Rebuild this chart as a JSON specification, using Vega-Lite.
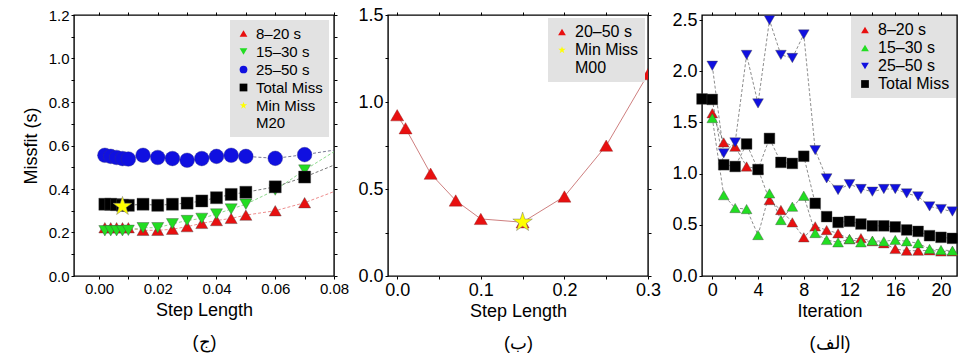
{
  "$schema": "https://vega.github.io/schema/vega-lite/v6.json",
  "padding": {"left": 21, "top": 5, "right": 0, "bottom": 0},
  "autosize": {"type": "pad"},
  "background": "white",
  "config": {
    "view": {"stroke": "black", "strokeWidth": 1.4},
    "font": "Liberation Sans",
    "axis": {
      "labelFont": "Liberation Sans", "labelFontSize": 15, "labelColor": "black",
      "titleFont": "Liberation Sans", "titleFontSize": 18, "titleFontWeight": "normal", "titleColor": "black",
      "tickColor": "black", "tickSize": 3, "tickWidth": 1, "domain": false,
      "labelPadding": 2, "grid": false, "labelFlush": false, "labelOverlap": false, "titleLineHeight": 32
    },
    "legend": {
      "labelFont": "Liberation Sans", "labelFontSize": 15, "labelColor": "black", "fillColor": "#e2e2e2",
      "padding": 6, "rowPadding": 2, "symbolSize": 60, "labelOffset": 5, "orient": "top-right",
      "symbolStrokeWidth": 0.3, "symbolStrokeColor": "#777777"
    }
  },
  "bounds": "flush",
  "spacing": 54,
  "resolve": {"scale": {"fill": "independent", "shape": "independent"}, "legend": {"fill": "independent", "shape": "independent"}},
  "hconcat": [
    {
      "width": 260, "height": 261,
      "data": {"values": [
        {"x": 0.002, "y": 0.222, "s": "8–20 s"}, {"x": 0.004, "y": 0.222, "s": "8–20 s"}, {"x": 0.006, "y": 0.222, "s": "8–20 s"}, {"x": 0.008, "y": 0.222, "s": "8–20 s"}, {"x": 0.01, "y": 0.222, "s": "8–20 s"},
        {"x": 0.015, "y": 0.21, "s": "8–20 s"}, {"x": 0.02, "y": 0.21, "s": "8–20 s"}, {"x": 0.025, "y": 0.215, "s": "8–20 s"}, {"x": 0.03, "y": 0.227, "s": "8–20 s"}, {"x": 0.035, "y": 0.242, "s": "8–20 s"},
        {"x": 0.04, "y": 0.255, "s": "8–20 s"}, {"x": 0.045, "y": 0.265, "s": "8–20 s"}, {"x": 0.05, "y": 0.28, "s": "8–20 s"}, {"x": 0.06, "y": 0.3, "s": "8–20 s"}, {"x": 0.07, "y": 0.337, "s": "8–20 s"}, {"x": 0.1, "y": 0.49, "s": "8–20 s"},
        {"x": 0.002, "y": 0.208, "s": "15–30 s"}, {"x": 0.004, "y": 0.208, "s": "15–30 s"}, {"x": 0.006, "y": 0.208, "s": "15–30 s"}, {"x": 0.008, "y": 0.208, "s": "15–30 s"}, {"x": 0.01, "y": 0.21, "s": "15–30 s"},
        {"x": 0.015, "y": 0.222, "s": "15–30 s"}, {"x": 0.02, "y": 0.222, "s": "15–30 s"}, {"x": 0.025, "y": 0.24, "s": "15–30 s"}, {"x": 0.03, "y": 0.255, "s": "15–30 s"}, {"x": 0.035, "y": 0.265, "s": "15–30 s"},
        {"x": 0.04, "y": 0.285, "s": "15–30 s"}, {"x": 0.045, "y": 0.308, "s": "15–30 s"}, {"x": 0.05, "y": 0.33, "s": "15–30 s"}, {"x": 0.06, "y": 0.395, "s": "15–30 s"}, {"x": 0.07, "y": 0.487, "s": "15–30 s"}, {"x": 0.1, "y": 0.74, "s": "15–30 s"},
        {"x": 0.002, "y": 0.555, "s": "25–50 s"}, {"x": 0.004, "y": 0.55, "s": "25–50 s"}, {"x": 0.006, "y": 0.545, "s": "25–50 s"}, {"x": 0.008, "y": 0.54, "s": "25–50 s"}, {"x": 0.01, "y": 0.538, "s": "25–50 s"},
        {"x": 0.015, "y": 0.555, "s": "25–50 s"}, {"x": 0.02, "y": 0.545, "s": "25–50 s"}, {"x": 0.025, "y": 0.54, "s": "25–50 s"}, {"x": 0.03, "y": 0.532, "s": "25–50 s"}, {"x": 0.035, "y": 0.54, "s": "25–50 s"},
        {"x": 0.04, "y": 0.55, "s": "25–50 s"}, {"x": 0.045, "y": 0.555, "s": "25–50 s"}, {"x": 0.05, "y": 0.55, "s": "25–50 s"}, {"x": 0.06, "y": 0.541, "s": "25–50 s"}, {"x": 0.07, "y": 0.558, "s": "25–50 s"}, {"x": 0.1, "y": 0.62, "s": "25–50 s"},
        {"x": 0.002, "y": 0.33, "s": "Total Miss"}, {"x": 0.004, "y": 0.33, "s": "Total Miss"}, {"x": 0.006, "y": 0.328, "s": "Total Miss"}, {"x": 0.008, "y": 0.325, "s": "Total Miss"}, {"x": 0.01, "y": 0.325, "s": "Total Miss"},
        {"x": 0.015, "y": 0.33, "s": "Total Miss"}, {"x": 0.02, "y": 0.325, "s": "Total Miss"}, {"x": 0.025, "y": 0.33, "s": "Total Miss"}, {"x": 0.03, "y": 0.335, "s": "Total Miss"}, {"x": 0.035, "y": 0.345, "s": "Total Miss"},
        {"x": 0.04, "y": 0.36, "s": "Total Miss"}, {"x": 0.045, "y": 0.375, "s": "Total Miss"}, {"x": 0.05, "y": 0.385, "s": "Total Miss"}, {"x": 0.06, "y": 0.41, "s": "Total Miss"}, {"x": 0.07, "y": 0.455, "s": "Total Miss"}, {"x": 0.1, "y": 0.62, "s": "Total Miss"},
        {"x": 0.008, "y": 0.32, "s": "Min Miss"}
      ]},
      "layer": [
        {
          "transform": [{"filter": "datum.s != 'Min Miss'"}],
          "mark": {"type": "line", "strokeWidth": 0.8, "strokeDash": [3, 2], "clip": true},
          "encoding": {
            "x": {"field": "x", "type": "quantitative", "scale": {"domain": [-0.0085, 0.08], "nice": false, "zero": false},
              "axis": {"orient": "top", "labels": false, "title": null, "values": [0, 0.01, 0.02, 0.03, 0.04, 0.05, 0.06, 0.07, 0.08]}},
            "y": {"field": "y", "type": "quantitative", "scale": {"domain": [0, 1.2], "nice": false},
              "axis": {"orient": "right", "labels": false, "title": null, "values": [0, 0.1, 0.2, 0.3, 0.4, 0.5, 0.6, 0.7, 0.8, 0.9, 1.0, 1.1, 1.2]}},
            "stroke": {"field": "s", "type": "nominal", "scale": {"domain": ["8–20 s", "15–30 s", "25–50 s", "Total Miss"], "range": ["#e87070", "#70d070", "#555577", "#555555"]}, "legend": null}
          }
        },
        {
          "transform": [{"filter": "datum.s != 'Min Miss' && datum.s != '25–50 s'"}],
          "mark": {"type": "point", "filled": true, "opacity": 1, "clip": true, "stroke": "#444444", "strokeWidth": 0.4, "size": 145},
          "encoding": {
            "x": {"field": "x", "type": "quantitative", "scale": {"domain": [-0.0085, 0.08], "nice": false, "zero": false},
              "axis": {"orient": "bottom", "title": ["Step Length", "(ج)"], "titlePadding": 5, "values": [0, 0.01, 0.02, 0.03, 0.04, 0.05, 0.06, 0.07, 0.08],
                "labelExpr": "round(datum.value*100) % 2 == 0 ? format(datum.value, '.2f') : ''"}},
            "y": {"field": "y", "type": "quantitative", "scale": {"domain": [0, 1.2], "nice": false},
              "axis": {"orient": "left", "title": "Missfit (s)", "titlePadding": 8, "values": [0, 0.1, 0.2, 0.3, 0.4, 0.5, 0.6, 0.7, 0.8, 0.9, 1.0, 1.1, 1.2],
                "labelExpr": "round(datum.value*10) % 2 == 0 ? format(datum.value, '.1f') : ''"}},
            "fill": {"field": "s", "type": "nominal", "scale": {"domain": ["8–20 s", "15–30 s", "25–50 s", "Total Miss", "Min Miss"], "range": ["#e81010", "#22dd22", "#1010e0", "#000000", "#ffff00"]},
              "legend": {"title": null, "offset": 5, "labelExpr": "datum.label == 'Min Miss' ? ['Min Miss', '\u2002M20'] : datum.label"}},
            "shape": {"field": "s", "type": "nominal", "scale": {"domain": ["8–20 s", "15–30 s", "25–50 s", "Total Miss", "Min Miss"], "range": ["triangle-up", "triangle-down", "circle", "square", "M0,-1L0.2245,-0.309L0.951,-0.309L0.363,0.118L0.588,0.809L0,0.382L-0.588,0.809L-0.363,0.118L-0.951,-0.309L-0.2245,-0.309Z"]},
              "legend": {"title": null, "offset": 5, "labelExpr": "datum.label == 'Min Miss' ? ['Min Miss', '\u2002M20'] : datum.label"}}
          }
        },
        {
          "transform": [{"filter": "datum.s == '25–50 s'"}],
          "mark": {"type": "point", "filled": true, "opacity": 1, "clip": true, "stroke": "#333388", "strokeWidth": 0.4, "size": 215},
          "encoding": {
            "x": {"field": "x", "type": "quantitative", "axis": null},
            "y": {"field": "y", "type": "quantitative", "axis": null},
            "fill": {"field": "s", "type": "nominal"},
            "shape": {"field": "s", "type": "nominal"}
          }
        },
        {
          "transform": [{"filter": "datum.s == 'Min Miss'"}],
          "mark": {"type": "point", "filled": true, "opacity": 1, "clip": true, "stroke": "#777777", "strokeWidth": 0.5, "size": 400},
          "encoding": {
            "x": {"field": "x", "type": "quantitative", "axis": null},
            "y": {"field": "y", "type": "quantitative", "axis": null},
            "fill": {"field": "s", "type": "nominal"},
            "shape": {"field": "s", "type": "nominal"}
          }
        }
      ],
      "resolve": {"axis": {"x": "independent", "y": "independent"}}
    },
    {
      "width": 260, "height": 261,
      "data": {"values": [
        {"x": 0.0, "y": 0.924, "s": "20–50 s"}, {"x": 0.01, "y": 0.849, "s": "20–50 s"}, {"x": 0.04, "y": 0.588, "s": "20–50 s"}, {"x": 0.07, "y": 0.434, "s": "20–50 s"},
        {"x": 0.1, "y": 0.328, "s": "20–50 s"}, {"x": 0.15, "y": 0.309, "s": "20–50 s"}, {"x": 0.2, "y": 0.457, "s": "20–50 s"}, {"x": 0.25, "y": 0.749, "s": "20–50 s"}, {"x": 0.3, "y": 1.16, "s": "20–50 s"},
        {"x": 0.15, "y": 0.309, "s": "Min Miss"}
      ]},
      "layer": [
        {
          "transform": [{"filter": "datum.s != 'Min Miss'"}],
          "mark": {"type": "line", "strokeWidth": 0.9, "clip": true, "color": "#c87070"},
          "encoding": {
            "x": {"field": "x", "type": "quantitative", "scale": {"domain": [-0.011, 0.3], "nice": false, "zero": false},
              "axis": {"orient": "top", "labels": false, "title": null, "values": [0, 0.05, 0.1, 0.15, 0.2, 0.25, 0.3]}},
            "y": {"field": "y", "type": "quantitative", "scale": {"domain": [0, 1.5], "nice": false},
              "axis": {"orient": "right", "labels": false, "title": null, "values": [0, 0.25, 0.5, 0.75, 1.0, 1.25, 1.5]}}
          }
        },
        {
          "transform": [{"filter": "datum.s != 'Min Miss'"}],
          "mark": {"type": "point", "filled": true, "opacity": 1, "clip": true, "stroke": "#882222", "strokeWidth": 0.4, "size": 170},
          "encoding": {
            "x": {"field": "x", "type": "quantitative", "scale": {"domain": [-0.011, 0.3], "nice": false, "zero": false},
              "axis": {"orient": "bottom", "title": ["Step Length", "(ب)"], "titlePadding": 3, "labelFontSize": 18, "values": [0, 0.05, 0.1, 0.15, 0.2, 0.25, 0.3],
                "labelExpr": "round(datum.value*100) % 10 == 0 ? format(datum.value, '.1f') : ''"}},
            "y": {"field": "y", "type": "quantitative", "scale": {"domain": [0, 1.5], "nice": false},
              "axis": {"orient": "left", "title": null, "labelFontSize": 18, "values": [0, 0.25, 0.5, 0.75, 1.0, 1.25, 1.5],
                "labelExpr": "round(datum.value*100) % 50 == 0 ? format(datum.value, '.1f') : ''"}},
            "fill": {"field": "s", "type": "nominal", "scale": {"domain": ["20–50 s", "Min Miss"], "range": ["#e81010", "#ffff00"]},
              "legend": {"title": null, "offset": 3, "labelFontSize": 16, "labelExpr": "datum.label == 'Min Miss' ? ['Min Miss', '\u2002M00'] : datum.label"}},
            "shape": {"field": "s", "type": "nominal", "scale": {"domain": ["20–50 s", "Min Miss"], "range": ["triangle-up", "M0,-1L0.2245,-0.309L0.951,-0.309L0.363,0.118L0.588,0.809L0,0.382L-0.588,0.809L-0.363,0.118L-0.951,-0.309L-0.2245,-0.309Z"]},
              "legend": {"title": null, "offset": 3, "labelFontSize": 16, "labelExpr": "datum.label == 'Min Miss' ? ['Min Miss', '\u2002M00'] : datum.label"}}
          }
        },
        {
          "transform": [{"filter": "datum.s == 'Min Miss'"}],
          "mark": {"type": "point", "filled": true, "opacity": 1, "clip": true, "stroke": "#777777", "strokeWidth": 0.5, "size": 420},
          "encoding": {
            "x": {"field": "x", "type": "quantitative", "axis": null},
            "y": {"field": "y", "type": "quantitative", "axis": null},
            "fill": {"field": "s", "type": "nominal"},
            "shape": {"field": "s", "type": "nominal"}
          }
        }
      ],
      "resolve": {"axis": {"x": "independent", "y": "independent"}}
    },
    {
      "width": 255, "height": 261,
      "data": {"values": [
        {"x": 0, "y": 1.59, "s": "8–20 s"}, {"x": 1, "y": 1.305, "s": "8–20 s"}, {"x": 2, "y": 1.263, "s": "8–20 s"}, {"x": 3, "y": 1.07, "s": "8–20 s"}, {"x": 4, "y": 1.045, "s": "8–20 s"}, {"x": 5, "y": 0.742, "s": "8–20 s"},
        {"x": 6, "y": 0.645, "s": "8–20 s"}, {"x": 7, "y": 0.524, "s": "8–20 s"}, {"x": 8, "y": 0.378, "s": "8–20 s"}, {"x": 9, "y": 0.485, "s": "8–20 s"}, {"x": 10, "y": 0.449, "s": "8–20 s"}, {"x": 11, "y": 0.417, "s": "8–20 s"},
        {"x": 12, "y": 0.36, "s": "8–20 s"}, {"x": 13, "y": 0.37, "s": "8–20 s"}, {"x": 14, "y": 0.34, "s": "8–20 s"}, {"x": 15, "y": 0.32, "s": "8–20 s"}, {"x": 16, "y": 0.264, "s": "8–20 s"}, {"x": 17, "y": 0.247, "s": "8–20 s"},
        {"x": 18, "y": 0.247, "s": "8–20 s"}, {"x": 19, "y": 0.25, "s": "8–20 s"}, {"x": 20, "y": 0.24, "s": "8–20 s"}, {"x": 21, "y": 0.24, "s": "8–20 s"},
        {"x": 0, "y": 1.543, "s": "15–30 s"}, {"x": 1, "y": 0.79, "s": "15–30 s"}, {"x": 2, "y": 0.664, "s": "15–30 s"}, {"x": 3, "y": 0.654, "s": "15–30 s"}, {"x": 4, "y": 0.4, "s": "15–30 s"}, {"x": 5, "y": 0.807, "s": "15–30 s"},
        {"x": 6, "y": 0.547, "s": "15–30 s"}, {"x": 7, "y": 0.677, "s": "15–30 s"}, {"x": 8, "y": 0.784, "s": "15–30 s"}, {"x": 9, "y": 0.42, "s": "15–30 s"}, {"x": 10, "y": 0.352, "s": "15–30 s"}, {"x": 11, "y": 0.329, "s": "15–30 s"},
        {"x": 12, "y": 0.361, "s": "15–30 s"}, {"x": 13, "y": 0.329, "s": "15–30 s"}, {"x": 14, "y": 0.345, "s": "15–30 s"}, {"x": 15, "y": 0.339, "s": "15–30 s"}, {"x": 16, "y": 0.352, "s": "15–30 s"}, {"x": 17, "y": 0.339, "s": "15–30 s"},
        {"x": 18, "y": 0.32, "s": "15–30 s"}, {"x": 19, "y": 0.264, "s": "15–30 s"}, {"x": 20, "y": 0.254, "s": "15–30 s"}, {"x": 21, "y": 0.247, "s": "15–30 s"},
        {"x": 0, "y": 2.054, "s": "25–50 s"}, {"x": 1, "y": 1.198, "s": "25–50 s"}, {"x": 2, "y": 1.305, "s": "25–50 s"}, {"x": 3, "y": 2.16, "s": "25–50 s"}, {"x": 4, "y": 1.686, "s": "25–50 s"}, {"x": 5, "y": 2.5, "s": "25–50 s"},
        {"x": 6, "y": 2.16, "s": "25–50 s"}, {"x": 7, "y": 2.13, "s": "25–50 s"}, {"x": 8, "y": 2.36, "s": "25–50 s"}, {"x": 9, "y": 1.23, "s": "25–50 s"}, {"x": 10, "y": 0.954, "s": "25–50 s"}, {"x": 11, "y": 0.84, "s": "25–50 s"},
        {"x": 12, "y": 0.898, "s": "25–50 s"}, {"x": 13, "y": 0.85, "s": "25–50 s"}, {"x": 14, "y": 0.824, "s": "25–50 s"}, {"x": 15, "y": 0.85, "s": "25–50 s"}, {"x": 16, "y": 0.85, "s": "25–50 s"}, {"x": 17, "y": 0.807, "s": "25–50 s"},
        {"x": 18, "y": 0.778, "s": "25–50 s"}, {"x": 19, "y": 0.68, "s": "25–50 s"}, {"x": 20, "y": 0.654, "s": "25–50 s"}, {"x": 21, "y": 0.63, "s": "25–50 s"},
        {"x": -0.9, "y": 1.73, "s": "Total Miss"}, {"x": 0, "y": 1.725, "s": "Total Miss"}, {"x": 1, "y": 1.087, "s": "Total Miss"}, {"x": 2, "y": 1.07, "s": "Total Miss"}, {"x": 3, "y": 1.29, "s": "Total Miss"}, {"x": 4, "y": 1.04, "s": "Total Miss"},
        {"x": 5, "y": 1.344, "s": "Total Miss"}, {"x": 6, "y": 1.11, "s": "Total Miss"}, {"x": 7, "y": 1.1, "s": "Total Miss"}, {"x": 8, "y": 1.17, "s": "Total Miss"}, {"x": 9, "y": 0.71, "s": "Total Miss"}, {"x": 10, "y": 0.58, "s": "Total Miss"},
        {"x": 11, "y": 0.524, "s": "Total Miss"}, {"x": 12, "y": 0.534, "s": "Total Miss"}, {"x": 13, "y": 0.508, "s": "Total Miss"}, {"x": 14, "y": 0.49, "s": "Total Miss"}, {"x": 15, "y": 0.49, "s": "Total Miss"}, {"x": 16, "y": 0.48, "s": "Total Miss"},
        {"x": 17, "y": 0.45, "s": "Total Miss"}, {"x": 18, "y": 0.436, "s": "Total Miss"}, {"x": 19, "y": 0.394, "s": "Total Miss"}, {"x": 20, "y": 0.378, "s": "Total Miss"}, {"x": 21, "y": 0.368, "s": "Total Miss"}
      ]},
      "layer": [
        {
          "mark": {"type": "line", "strokeWidth": 0.7, "strokeDash": [3, 2], "clip": true, "color": "#5a5a5a"},
          "encoding": {
            "x": {"field": "x", "type": "quantitative", "scale": {"domain": [-0.9, 21.4], "nice": false, "zero": false},
              "axis": {"orient": "top", "labels": false, "title": null, "values": [0, 2, 4, 6, 8, 10, 12, 14, 16, 18, 20]}},
            "y": {"field": "y", "type": "quantitative", "scale": {"domain": [0, 2.55], "nice": false}},
            "detail": {"field": "s", "type": "nominal"}
          }
        },
        {
          "mark": {"type": "point", "filled": true, "opacity": 1, "stroke": "#444444", "strokeWidth": 0.4, "size": 115},
          "encoding": {
            "x": {"field": "x", "type": "quantitative", "scale": {"domain": [-0.9, 21.4], "nice": false, "zero": false},
              "axis": {"orient": "bottom", "title": ["Iteration", "(الف)"], "titlePadding": 3, "labelFontSize": 18, "values": [0, 2, 4, 6, 8, 10, 12, 14, 16, 18, 20],
                "labelExpr": "datum.value % 4 == 0 ? format(datum.value, 'd') : ''"}},
            "y": {"field": "y", "type": "quantitative", "scale": {"domain": [0, 2.55], "nice": false},
              "axis": {"orient": "left", "title": null, "labelFontSize": 18, "values": [0, 0.25, 0.5, 0.75, 1.0, 1.25, 1.5, 1.75, 2.0, 2.25, 2.5],
                "labelExpr": "round(datum.value*100) % 50 == 0 ? format(datum.value, '.1f') : ''"}},
            "fill": {"field": "s", "type": "nominal", "scale": {"domain": ["8–20 s", "15–30 s", "25–50 s", "Total Miss"], "range": ["#e81010", "#22dd22", "#1010e0", "#000000"]},
              "legend": {"title": null, "offset": 1, "labelFontSize": 16}},
            "shape": {"field": "s", "type": "nominal", "scale": {"domain": ["8–20 s", "15–30 s", "25–50 s", "Total Miss"], "range": ["triangle-up", "triangle-up", "triangle-down", "square"]},
              "legend": {"title": null, "offset": 1, "labelFontSize": 16}}
          }
        }
      ],
      "resolve": {"axis": {"x": "independent"}}
    }
  ]
}
